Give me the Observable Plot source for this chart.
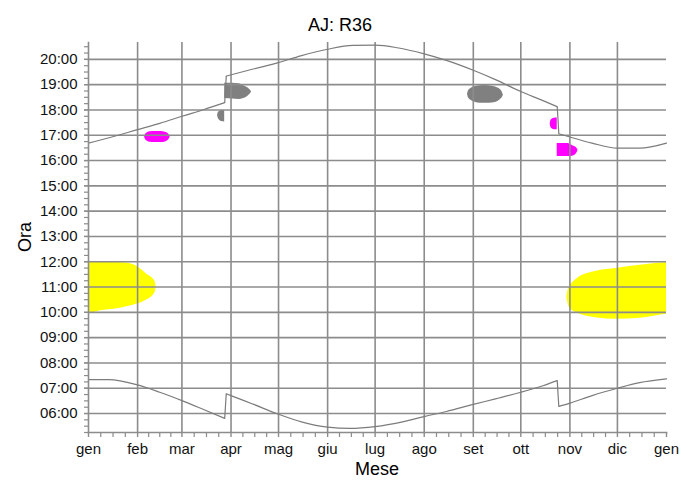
<!DOCTYPE html>
<html>
<head>
<meta charset="utf-8">
<script src="https://cdn.jsdelivr.net/npm/d3@7"></script>
<script src="https://cdn.jsdelivr.net/npm/@observablehq/plot@0.6"></script>
<style>
  html, body { margin: 0; padding: 0; background: #fff; }
  #chart svg { display: block; }
</style>
</head>
<body>
<div id="chart"></div>
<script>
// ---------- labels & ticks ----------
const chartTitle = "AJ: R36";
const xLabel = "Mese";
const yLabel = "Ora";
const monthStarts = ["2015-01-01","2015-02-01","2015-03-01","2015-04-01","2015-05-01","2015-06-01",
                     "2015-07-01","2015-08-01","2015-09-01","2015-10-01","2015-11-01","2015-12-01","2016-01-01"];
const monthLabels = ["gen","feb","mar","apr","mag","giu","lug","ago","set","ott","nov","dic","gen"];
const hourTicks = [6,7,8,9,10,11,12,13,14,15,16,17,18,19,20];
const hourLabels = ["06:00","07:00","08:00","09:00","10:00","11:00","12:00","13:00","14:00",
                    "15:00","16:00","17:00","18:00","19:00","20:00"];

// ---------- sunset (tramonto), three segments split by DST ----------
const sunsetDates = ["2015-01-01","2015-01-14","2015-02-01","2015-02-15","2015-03-01","2015-03-15","2015-03-28",
                     "2015-03-29","2015-04-15","2015-05-01","2015-05-15","2015-06-01","2015-06-17","2015-07-01",
                     "2015-07-15","2015-08-01","2015-08-15","2015-09-01","2015-09-15","2015-10-01","2015-10-15","2015-10-24",
                     "2015-10-25","2015-11-01","2015-11-15","2015-12-01","2015-12-15","2016-01-01"];
const sunsetHours = [16.69,16.90,17.22,17.47,17.75,18.02,18.29,
                     19.34,19.62,19.87,20.14,20.40,20.55,20.56,
                     20.46,20.22,19.96,19.57,19.20,18.73,18.37,18.13,
                     17.06,16.93,16.69,16.49,16.49,16.69];
const sunsetSegment = [0,0,0,0,0,0,0, 1,1,1,1,1,1,1,1,1,1,1,1,1,1,1, 2,2,2,2,2,2];

// ---------- sunrise (alba) ----------
const sunriseDates = ["2015-01-01","2015-01-14","2015-02-01","2015-02-15","2015-03-01","2015-03-15","2015-03-28",
                      "2015-03-29","2015-04-01","2015-04-15","2015-05-01","2015-05-16","2015-06-01","2015-06-15",
                      "2015-07-01","2015-07-19","2015-08-01","2015-08-15","2015-09-01","2015-09-15","2015-10-01",
                      "2015-10-15","2015-10-24",
                      "2015-10-25","2015-11-01","2015-11-15","2015-12-01","2015-12-15","2016-01-01"];
const sunriseHours = [7.34,7.34,7.13,6.84,6.51,6.15,5.81,
                      6.78,6.71,6.37,5.97,5.66,5.46,5.41,
                      5.48,5.68,5.88,6.08,6.36,6.58,6.84,
                      7.10,7.30,
                      6.28,6.41,6.71,7.00,7.22,7.37];
const sunriseSegment = [0,0,0,0,0,0,0, 1,1,1,1,1,1,1,1,1,1,1,1,1,1,1,1, 2,2,2,2,2,2];

// ---------- yellow regions ----------
const yellowJanDates = ["2015-01-01","2015-01-08","2015-01-20","2015-01-25","2015-02-01","2015-02-07",
                        "2015-02-11","2015-02-12T03:00","2015-02-12T18:00"];
const yellowJanLow  = [9.93,10.05,10.15,10.22,10.33,10.50,10.69,10.80,11.00];
const yellowJanHigh = [11.97,11.97,11.97,11.95,11.80,11.50,11.31,11.20,11.00];

const yellowDecDates = ["2015-10-30T02:00","2015-10-31","2015-11-01","2015-11-06","2015-11-17","2015-12-01",
                        "2015-12-14","2015-12-25","2016-01-01"];
const yellowDecLow  = [10.60,10.30,10.16,9.96,9.79,9.73,9.76,9.86,9.92];
const yellowDecHigh = [10.60,10.90,11.02,11.35,11.61,11.74,11.85,11.93,11.96];

// ---------- gray regions ----------
const grayMarDates = ["2015-03-23T12:00","2015-03-24","2015-03-25","2015-03-26","2015-03-28"];
const grayMarLow  = [17.78,17.66,17.58,17.54,17.52];
const grayMarHigh = [17.78,17.90,17.95,17.98,17.98];

const grayAprDates = ["2015-03-28","2015-04-02","2015-04-06","2015-04-09","2015-04-11","2015-04-12",
                      "2015-04-13","2015-04-14"];
const grayAprLow  = [18.45,18.43,18.41,18.45,18.51,18.56,18.62,18.71];
const grayAprHigh = [19.06,19.06,19.04,18.96,18.90,18.86,18.80,18.71];

const graySepDates = ["2015-08-28T08:00","2015-08-29","2015-08-31","2015-09-03","2015-09-07","2015-09-11",
                      "2015-09-15","2015-09-18","2015-09-19","2015-09-20"];
const graySepLow  = [18.62,18.47,18.36,18.29,18.27,18.27,18.30,18.40,18.46,18.58];
const graySepHigh = [18.62,18.76,18.87,18.94,18.97,18.96,18.91,18.81,18.74,18.58];

// ---------- magenta regions ----------
const magentaFebDates = ["2015-02-05T10:00","2015-02-06","2015-02-07","2015-02-09","2015-02-12","2015-02-16",
                         "2015-02-18","2015-02-20","2015-02-21","2015-02-21T14:00"];
const magentaFebLow  = [16.93,16.83,16.77,16.72,16.71,16.71,16.72,16.78,16.85,16.93];
const magentaFebHigh = [16.93,17.03,17.09,17.14,17.15,17.15,17.13,17.08,17.01,16.93];

const magentaOctDates = ["2015-10-19T14:00","2015-10-20","2015-10-21","2015-10-22","2015-10-24"];
const magentaOctLow  = [17.45,17.32,17.25,17.22,17.22];
const magentaOctHigh = [17.45,17.58,17.64,17.67,17.68];

const magentaNovDates = ["2015-10-24","2015-10-31","2015-11-01","2015-11-03","2015-11-05","2015-11-06"];
const magentaNovLow  = [16.16,16.16,16.16,16.18,16.26,16.38];
const magentaNovHigh = [16.67,16.67,16.64,16.58,16.52,16.44];

// ---------- build tables ----------
const parse = s => new Date(s.length > 10 ? s + "Z" : s + "T00:00Z");
const series = (dates, hours, seg) => dates.map((d, i) => ({date: parse(d), h: hours[i], seg: seg[i]}));
const band = (name, dates, lo, hi) => dates.map((d, i) => ({blob: name, date: parse(d), lo: lo[i], hi: hi[i]}));

const sunset = series(sunsetDates, sunsetHours, sunsetSegment);
const sunrise = series(sunriseDates, sunriseHours, sunriseSegment);
const jumps = s => {
  const out = [];
  for (let i = 1; i < s.length; i++) if (s[i].seg !== s[i-1].seg) out.push({d1: s[i-1].date, h1: s[i-1].h, d2: s[i].date, h2: s[i].h});
  return out;
};

const yellow = [...band("a", yellowJanDates, yellowJanLow, yellowJanHigh),
                ...band("b", yellowDecDates, yellowDecLow, yellowDecHigh)];
const gray = [...band("a", grayMarDates, grayMarLow, grayMarHigh),
              ...band("b", grayAprDates, grayAprLow, grayAprHigh),
              ...band("c", graySepDates, graySepLow, graySepHigh)];
const magenta = [...band("a", magentaFebDates, magentaFebLow, magentaFebHigh),
                 ...band("b", magentaOctDates, magentaOctLow, magentaOctHigh),
                 ...band("c", magentaNovDates, magentaNovLow, magentaNovHigh)];

const monthDates = monthStarts.map(parse);
const monthLabelMap = new Map(monthDates.map((d, i) => [+d, monthLabels[i]]));
const hourLabelMap = new Map(hourTicks.map((h, i) => [h, hourLabels[i]]));

// minor ticks: quarters of each month; quarter hours
const minorX = [];
for (let i = 0; i < monthDates.length - 1; i++) {
  const a = +monthDates[i], b = +monthDates[i+1];
  for (let k = 1; k < 4; k++) minorX.push(new Date(a + (b - a) * k / 4));
}
const yDomain = [5.25, 20.667];
const minorY = d3.range(Math.ceil(yDomain[0] * 4), Math.floor(yDomain[1] * 4) + 1).map(q => q / 4);

const gridColor = "#8c8c8c";
const lineColor = "#7c7c7c";
const font = "'Liberation Sans', Arial, Helvetica, sans-serif";

const svg = Plot.plot({
  width: 696,
  height: 480,
  marginLeft: 88,
  marginRight: 30,
  marginTop: 42,
  marginBottom: 48,
  style: {fontFamily: font, fontSize: "15px", color: "#000", background: "#fff"},
  x: {type: "utc", domain: [monthDates[0], monthDates[monthDates.length - 1]]},
  y: {domain: yDomain},
  marks: [
    Plot.areaY(yellow, {x: "date", y1: "lo", y2: "hi", z: "blob", fill: "#ffff00", curve: "monotone-x"}),
    Plot.areaY(gray, {x: "date", y1: "lo", y2: "hi", z: "blob", fill: "#808080", curve: "monotone-x"}),
    Plot.areaY(magenta, {x: "date", y1: "lo", y2: "hi", z: "blob", fill: "#ff00ff", curve: "monotone-x"}),
    Plot.gridX(monthDates.slice(1, -1), {stroke: gridColor, strokeOpacity: 1, strokeWidth: 1.6}),
    Plot.gridY(hourTicks, {stroke: gridColor, strokeOpacity: 1, strokeWidth: 1.6}),
    Plot.line(sunset, {x: "date", y: "h", z: "seg", stroke: lineColor, strokeWidth: 1.2, curve: "monotone-x"}),
    Plot.line(sunrise, {x: "date", y: "h", z: "seg", stroke: lineColor, strokeWidth: 1.2, curve: "monotone-x"}),
    Plot.link(jumps(sunset), {x1: "d1", y1: "h1", x2: "d2", y2: "h2", stroke: lineColor, strokeWidth: 1.2}),
    Plot.link(jumps(sunrise), {x1: "d1", y1: "h1", x2: "d2", y2: "h2", stroke: lineColor, strokeWidth: 1.2}),
    Plot.axisX(minorX, {tickSize: 5, tickFormat: () => "", stroke: gridColor, strokeWidth: 1.2, label: null}),
    Plot.axisX(monthDates, {tickSize: 5, tickPadding: 6, tickFormat: d => monthLabelMap.get(+d),
                            stroke: gridColor, strokeWidth: 1.4, fill: "#111", label: null}),
    Plot.axisY(minorY, {tickSize: 4, tickFormat: () => "", stroke: gridColor, strokeWidth: 1.2, label: null}),
    Plot.axisY(hourTicks, {tickSize: 4, tickPadding: 7, tickFormat: h => hourLabelMap.get(h),
                           stroke: gridColor, strokeWidth: 1.4, fill: "#111", label: null}),
    Plot.frame({anchor: "left", stroke: gridColor, strokeWidth: 1.6}),
    Plot.frame({anchor: "bottom", stroke: gridColor, strokeWidth: 1.6})
  ]
});

const s = d3.select(svg);
s.append("text").attr("x", 340).attr("y", 31).attr("text-anchor", "middle")
  .style("font-family", font).style("font-size", "18px").attr("fill", "#000").text(chartTitle);
s.append("text").attr("x", 377).attr("y", 475).attr("text-anchor", "middle")
  .style("font-family", font).style("font-size", "18px").attr("fill", "#000").text(xLabel);
s.append("text").attr("transform", "translate(31,237) rotate(-90)").attr("text-anchor", "middle")
  .style("font-family", font).style("font-size", "18px").attr("fill", "#000").text(yLabel);

document.getElementById("chart").appendChild(svg);
</script>
</body>
</html>
